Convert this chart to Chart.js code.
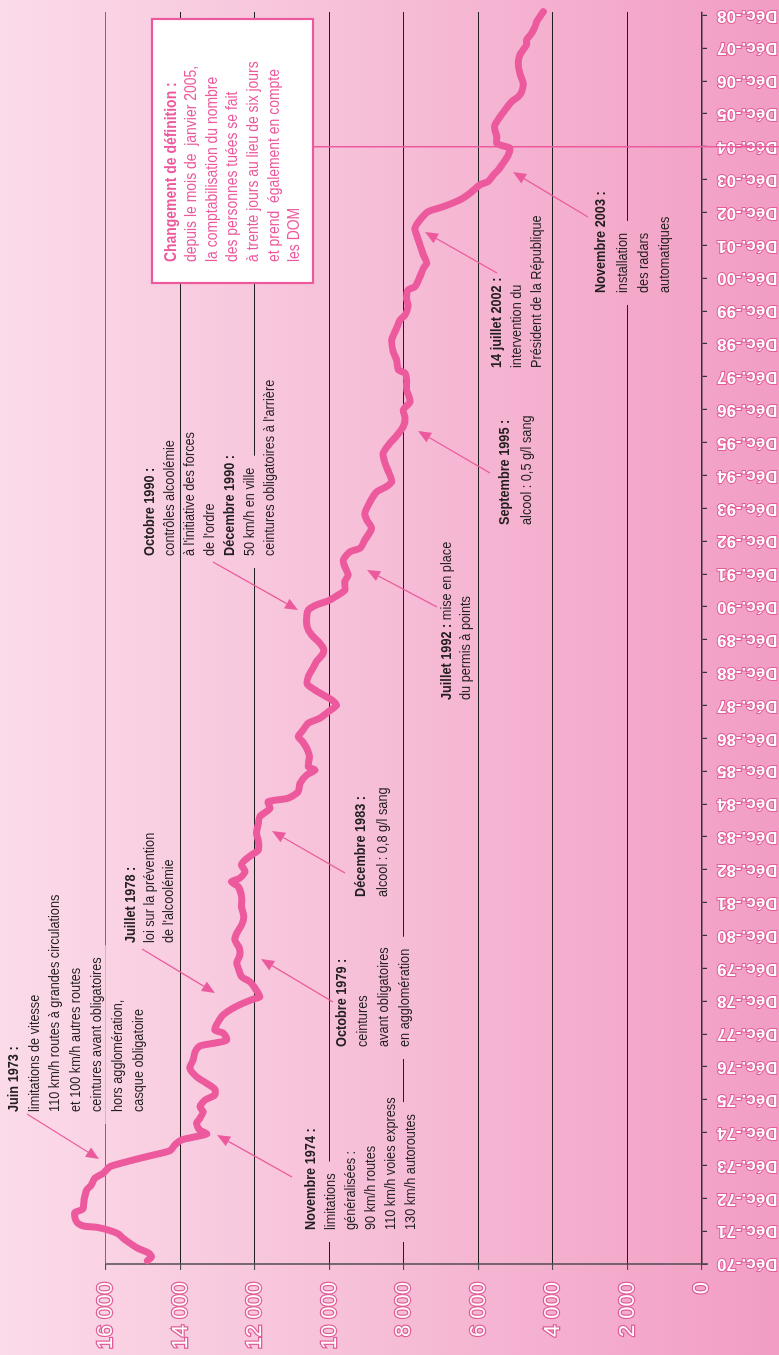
<!DOCTYPE html>
<html lang="fr">
<head>
<meta charset="utf-8">
<title>Personnes tuées sur les routes 1970-2008</title>
<script src="https://cdn.jsdelivr.net/npm/chart.js@4.4.1/dist/chart.umd.min.js"></script>
<style>
  html, body { margin: 0; padding: 0; overflow: hidden; background: #f6bcd6; }
  #wrap { position: absolute; left: 0; top: 0; width: 1355px; height: 779px;
          transform-origin: 0 0; transform: translate(0, 1355px) rotate(-90deg); }
</style>
</head>
<body>
<div id="wrap"><canvas id="chart" width="1355" height="779"></canvas></div>
<script>
// chart is drawn lying down (time left->right) then turned a quarter turn

const tickLabels = ['Déc.-70', 'Déc.-71', 'Déc.-72', 'Déc.-73', 'Déc.-74', 'Déc.-75', 'Déc.-76', 'Déc.-77',
    'Déc.-78', 'Déc.-79', 'Déc.-80', 'Déc.-81', 'Déc.-82', 'Déc.-83', 'Déc.-84', 'Déc.-85', 'Déc.-86',
    'Déc.-87', 'Déc.-88', 'Déc.-89', 'Déc.-90', 'Déc.-91', 'Déc.-92', 'Déc.-93', 'Déc.-94', 'Déc.-95',
    'Déc.-96', 'Déc.-97', 'Déc.-98', 'Déc.-99', 'Déc.-00', 'Déc.-01', 'Déc.-02', 'Déc.-03', 'Déc.-04',
    'Déc.-05', 'Déc.-06', 'Déc.-07', 'Déc.-08'];

const valueTicks = [0, 2000, 4000, 6000, 8000, 10000, 12000, 14000, 16000];

// months after Dec 1970
const months = [1.2, 2.7, 4.1, 5.7, 7.6, 9.4, 11.0, 12.4, 13.4, 13.9, 15.4, 18.7, 20.0, 23.4, 27.0, 28.9,
    31.3, 33.1, 35.5, 37.0, 38.6, 39.8, 41.4, 43.5, 45.3, 46.3, 47.5, 48.9, 51.4, 53.2, 55.6, 57.4,
    59.9, 61.7, 63.8, 66.0, 68.4, 71.5, 74.5, 77.5, 79.6, 80.8, 81.8, 84.3, 85.5, 90.3, 92.8, 95.0,
    96.7, 97.6, 100.7, 103.1, 104.9, 108.0, 110.0, 112.8, 115.3, 118.3, 120.8, 123.8, 126.8, 130.5,
    134.1, 137.8, 139.6, 140.9, 143.3, 145.7, 147.5, 149.4, 151.2, 154.2, 157.3, 160.9, 163.4, 166.4,
    168.8, 170.1, 172.5, 175.6, 178.6, 180.4, 181.6, 185.3, 188.3, 190.7, 192.6, 195.0, 197.5, 199.3,
    201.7, 204.1, 206.0, 207.8, 209.6, 211.8, 214.5, 217.5, 220.0, 223.0, 224.9, 227.3, 229.7, 232.7,
    236.4, 238.8, 240.7, 242.2, 244.3, 246.1, 249.2, 251.6, 254.7, 257.1, 260.1, 261.4, 264.4, 268.7,
    271.7, 274.2, 278.4, 282.0, 283.9, 285.7, 289.4, 292.4, 296.1, 299.7, 302.4, 305.8, 308.9, 311.9,
    314.9, 319.2, 322.8, 325.3, 326.5, 330.1, 333.2, 337.4, 341.7, 344.7, 346.6, 349.6, 352.7, 355.7,
    356.9, 360.6, 363.6, 365.5, 368.5, 372.1, 375.8, 378.2, 381.3, 384.3, 386.1, 388.6, 391.0, 394.1,
    395.3, 397.7, 399.5, 402.0, 405.0, 407.5, 408.3, 409.3, 411.7, 414.1, 416.0, 419.0, 421.4, 424.5,
    426.3, 428.1, 431.2, 434.8, 438.5, 441.5, 443.4, 445.2, 447.0, 449.5, 451.9, 453.7, 455.5, 457.3,
    458.6];

const deaths = [14890, 14780, 14870, 15140, 15360, 15540, 15670, 15940, 16250, 16610, 16790, 16840, 16630,
    16590, 16520, 16390, 16300, 16080, 15900, 15540, 15090, 14730, 14280, 14150, 13970, 13660, 13300,
    13480, 13570, 13480, 13390, 13480, 13340, 13080, 13080, 13300, 13570, 13750, 13660, 13610, 13480,
    13030, 12760, 12850, 13080, 12900, 12670, 12360, 12050, 11870, 12000, 12140, 12360, 12450, 12490,
    12410, 12420, 12540, 12490, 12360, 12300, 12360, 12360, 12450, 12630, 12410, 12270, 12360, 12270,
    12090, 11910, 11910, 11960, 11910, 11870, 11600, 11650, 11110, 10840, 10790, 10610, 10390, 10570,
    10540, 10610, 10720, 10840, 10710, 10570, 10260, 10030, 9810, 9940, 10170, 10390, 10600, 10570,
    10450, 10350, 10170, 10170, 10300, 10480, 10600, 10610, 10570, 10350, 10030, 9770, 9590, 9590,
    9500, 9590, 9630, 9450, 9180, 9050, 8870, 9000, 9050, 8910, 8730, 8470, 8330, 8420, 8510, 8560,
    8380, 8200, 8020, 7970, 8020, 7840, 7930, 7930, 7970, 8150, 8200, 8290, 8330, 8200, 8110, 7970,
    7890, 7930, 7890, 7710, 7570, 7480, 7390, 7480, 7570, 7660, 7710, 7570, 7350, 6950, 6500, 6230,
    5960, 5740, 5600, 5470, 5340, 5200, 5160, 5340, 5510, 5510, 5560, 5560, 5420, 5290, 5110, 4930,
    4840, 4800, 4890, 4930, 4890, 4800, 4710, 4710, 4570, 4480, 4440, 4350, 4260, 4170];

const defChangeMonth = 408; // Dec 2004

const PINK = '#ec5a9d';
const INK = '#231f20';

// notes: first line position, line step, lines ([bold, regular] or plain), arrow [x1, y1, tipX, tipY]
const notes = [
    { x: 243, y: 13.5, step: 20.8, lines: [['Juin 1973 :', ''], 'limitations de vitesse',
        '110 km/h routes à grandes circulations', 'et 100 km/h autres routes',
        'ceintures avant obligatoires', 'hors agglomération,', 'casque obligatoire'],
      arrow: [241, 27, 196, 99] },
    { x: 125, y: 311, step: 20, lines: [['Novembre 1974 :', ''], 'limitations', 'généralisées :',
        '90 km/h routes', '110 km/h voies express', '130 km/h autoroutes'],
      arrow: [178, 292, 220, 217] },
    { x: 412, y: 130.5, step: 19.2, lines: [['Juillet 1978 :', ''], 'loi sur la prévention', "de l'alcoolémie"],
      arrow: [406, 142, 362, 215] },
    { x: 308, y: 342, step: 21, lines: [['Octobre 1979 :', ''], 'ceintures', 'avant obligatoires', 'en agglomération'],
      arrow: [353, 333, 396, 261] },
    { x: 458, y: 361, step: 22, lines: [['Décembre 1983 :', ''], 'alcool : 0,8 g/l sang'],
      arrow: [482, 345, 524, 272] },
    { x: 799, y: 150, step: 20, lines: [['Octobre 1990 :', ''], 'contrôles alcoolémie', "à l'initiative des forces",
        "de l'ordre", ['Décembre 1990 :', ''], '50 km/h en ville', "ceintures obligatoires à l'arrière"],
      arrow: [793, 213, 745, 298] },
    { x: 655, y: 447, step: 19, lines: [['Juillet 1992 :', ' mise en place'], 'du permis à points'],
      arrow: [748, 437, 785, 367] },
    { x: 830, y: 505, step: 22, lines: [['Septembre 1995 :', ''], 'alcool : 0,5 g/l sang'],
      arrow: [882, 490, 924, 418] },
    { x: 987, y: 497, step: 20, lines: [['14 juillet 2002 :', ''], 'intervention du', 'Président de la République'],
      arrow: [1082, 497, 1123, 425] },
    { x: 1062, y: 601, step: 21.3, lines: [['Novembre 2003 :', ''], 'installation', 'des radars', 'automatiques'],
      arrow: [1138, 588, 1183, 513] }
];

const boxNote = { x: 1093, y: 171, step: 20.6, lines: [['Changement de définition :', ''],
    'depuis le mois de  janvier 2005,', 'la comptabilisation du nombre', 'des personnes tuées se fait',
    'à trente jours au lieu de six jours', 'et prend  également en compte', 'les DOM'] };

// narrow font check, fall back to a squeezed Liberation Sans
const probe = document.createElement('canvas').getContext('2d');
probe.font = "20px 'Liberation Sans Narrow', monospace";
const wNarrow = probe.measureText('abcdefghij').width;
probe.font = '20px monospace';
const hasNarrow = wNarrow !== probe.measureText('abcdefghij').width;
const FAMILY = hasNarrow ? "'Liberation Sans Narrow', sans-serif" : "'Liberation Sans', sans-serif";
const SQUEEZE = hasNarrow ? 1 : 0.82;

function background(ctx, h) {
    const g = ctx.createLinearGradient(0, 0, 0, h);
    g.addColorStop(0, '#fbdbe9');
    g.addColorStop(0.5, '#f6bdd7');
    g.addColorStop(1, '#f29dc3');
    return g;
}

function textWidth(ctx, txt, bold, size) {
    ctx.font = (bold ? 'bold ' : '') + size + 'px ' + FAMILY;
    return ctx.measureText(txt).width * SQUEEZE;
}

function drawText(ctx, txt, x, y, bold, size, color) {
    ctx.font = (bold ? 'bold ' : '') + size + 'px ' + FAMILY;
    ctx.save();
    ctx.translate(x, y);
    ctx.scale(SQUEEZE, 1);
    ctx.fillStyle = color;
    ctx.textBaseline = 'middle';
    ctx.fillText(txt, 0, 0);
    ctx.restore();
    return ctx.measureText(txt).width * SQUEEZE;
}

function drawLines(ctx, note, size, color) {
    note.lines.forEach((line, i) => {
        const y = note.y + i * note.step;
        if (Array.isArray(line)) {
            const w = drawText(ctx, line[0], note.x, y, true, size, color);
            if (line[1]) drawText(ctx, line[1], note.x + w, y, false, size, color);
        } else {
            drawText(ctx, line, note.x, y, false, size, color);
        }
    });
}

function lineWidthOf(ctx, line, size) {
    if (Array.isArray(line)) return textWidth(ctx, line[0], true, size) + (line[1] ? textWidth(ctx, line[1], false, size) : 0);
    return textWidth(ctx, line, false, size);
}

function drawArrow(ctx, a) {
    const [x1, y1, x2, y2] = a;
    const ang = Math.atan2(y2 - y1, x2 - x1);
    const L = 13, W = 5.5;
    const bx = x2 - L * Math.cos(ang), by = y2 - L * Math.sin(ang);
    ctx.strokeStyle = PINK;
    ctx.fillStyle = PINK;
    ctx.lineWidth = 1.3;
    ctx.beginPath();
    ctx.moveTo(x1, y1);
    ctx.lineTo(bx, by);
    ctx.stroke();
    ctx.beginPath();
    ctx.moveTo(x2, y2);
    ctx.lineTo(bx - W * Math.sin(ang), by + W * Math.cos(ang));
    ctx.lineTo(bx + W * Math.sin(ang), by - W * Math.cos(ang));
    ctx.closePath();
    ctx.fill();
}

const NOTE_SIZE = 15.5;

const decor = {
    id: 'decor',
    beforeDraw(chart) {
        const { ctx, width, height } = chart;
        ctx.save();
        ctx.fillStyle = background(ctx, height);
        ctx.fillRect(0, 0, width, height);
        ctx.restore();
    },
    beforeDatasetsDraw(chart) {
        const { ctx, height } = chart;
        const xs = chart.scales.x, ys = chart.scales.y;
        ctx.save();
        // hide grid lines behind the notes
        ctx.fillStyle = background(ctx, height);
        notes.forEach(n => {
            n.lines.forEach((line, i) => {
                const w = lineWidthOf(ctx, line, NOTE_SIZE);
                ctx.fillRect(n.x - 12, n.y + i * n.step - 9, w + 24, 18);
            });
        });
        // value axis line, 0 to 16 000 only
        ctx.strokeStyle = '#4f4a4d';
        ctx.lineWidth = 1.5;
        ctx.beginPath();
        ctx.moveTo(xs.left, ys.getPixelForValue(16000));
        ctx.lineTo(xs.left, ys.getPixelForValue(0) + 6);
        ctx.stroke();

        // definition change marker + box
        const xd = xs.getPixelForValue(defChangeMonth);
        ctx.strokeStyle = PINK;
        ctx.lineWidth = 1.5;
        ctx.beginPath();
        ctx.moveTo(xd, 313);
        ctx.lineTo(xd, height);
        ctx.stroke();
        ctx.fillStyle = '#ffffff';
        ctx.fillRect(1072, 152, 264, 161);
        ctx.lineWidth = 2.2;
        ctx.strokeRect(1072, 152, 264, 161);
        drawLines(ctx, boxNote, 17, PINK);

        notes.forEach(n => drawLines(ctx, n, NOTE_SIZE, INK));
        notes.forEach(n => drawArrow(ctx, n.arrow));
        ctx.restore();
    }
};

Chart.defaults.font.family = FAMILY;

new Chart(document.getElementById('chart'), {
    type: 'line',
    data: {
        datasets: [{
            data: months.map((m, i) => ({ x: m, y: deaths[i] })),
            borderColor: PINK,
            borderWidth: 7,
            borderCapStyle: 'round',
            borderJoinStyle: 'round',
            pointRadius: 0,
            tension: 0.25,
            fill: false,
            clip: false
        }]
    },
    options: {
        responsive: false,
        animation: false,
        layout: { padding: { left: 0, top: 0, right: 12, bottom: 0 } },
        plugins: { legend: { display: false }, tooltip: { enabled: false } },
        scales: {
            x: {
                type: 'linear',
                min: 0,
                max: 457.2,
                afterBuildTicks: (s) => { s.ticks = tickLabels.map((_, i) => ({ value: i * 12 })); },
                afterFit: (s) => { s.height = 77; s.paddingLeft = 0; s.paddingRight = 0; },
                grid: { drawOnChartArea: false, drawTicks: true, tickLength: 5, color: '#333333', lineWidth: 1.2 },
                border: { display: true, color: '#333333', width: 1.5 },
                ticks: {
                    autoSkip: false,
                    minRotation: 90,
                    maxRotation: 90,
                    padding: 10,
                    color: '#ffffff',
                    textStrokeColor: '#e15c98',
                    textStrokeWidth: 2,
                    font: { size: 17, weight: 'bold' },
                    callback: (v) => tickLabels[Math.round(v / 12)]
                }
            },
            y: {
                type: 'linear',
                min: 0,
                max: 18846,
                afterBuildTicks: (s) => { s.ticks = valueTicks.map(v => ({ value: v })); },
                afterFit: (s) => { s.width = 91; s.paddingTop = 0; s.paddingBottom = 0; },
                grid: {
                    color: (c) => (c.tick && c.tick.value === 16000 ? '#7d6b75' : '#1f1f1f'),
                    tickColor: '#4f4a4d',
                    lineWidth: 1.1,
                    tickLength: 6
                },
                border: { display: false },
                ticks: {
                    padding: 12,
                    color: '#ffffff',
                    textStrokeColor: '#e15c98',
                    textStrokeWidth: 2.5,
                    font: { size: 22 },
                    callback: (v) => (v === 0 ? '0' : (v / 1000) + ' 000')
                }
            }
        }
    },
    plugins: [decor]
});
</script>
</body>
</html>
